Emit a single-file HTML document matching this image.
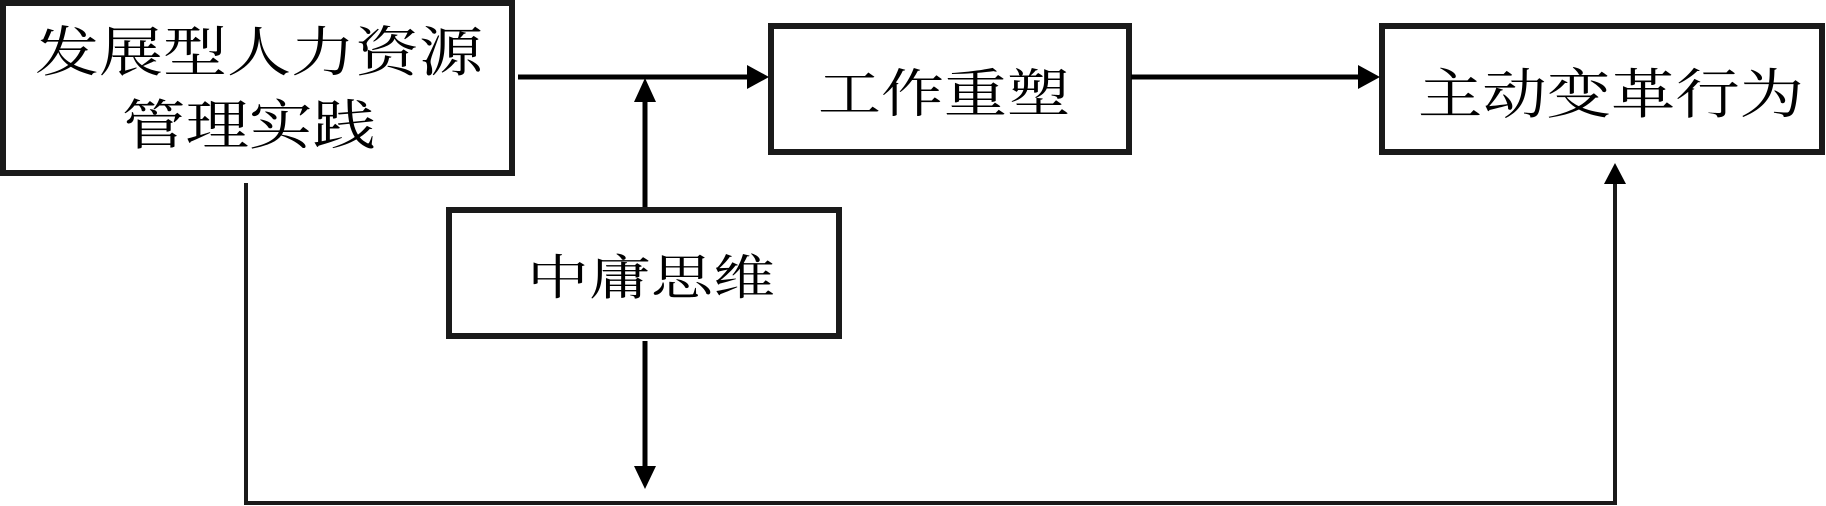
<!DOCTYPE html>
<html><head><meta charset="utf-8"><style>
html,body{margin:0;padding:0;background:#fff;}
svg{display:block;}
text{font-family:"Liberation Serif","Noto Serif CJK SC",serif;fill:#000;}
</style></head><body>
<svg width="1826" height="506" viewBox="0 0 1826 506" xmlns="http://www.w3.org/2000/svg">
<g fill="none" stroke="#1a1a1a" stroke-width="6">
<rect x="3" y="3" width="509" height="170"/>
<rect x="771" y="26" width="358" height="126"/>
<rect x="1382" y="26" width="440" height="126"/>
<rect x="449" y="210" width="390" height="126"/>
</g>
<g stroke="#000" stroke-width="5" fill="none">
<line x1="518" y1="77" x2="750" y2="77"/>
<line x1="1131" y1="77" x2="1360" y2="77"/>
<line x1="645" y1="207" x2="645" y2="100"/>
<line x1="645" y1="341" x2="645" y2="468"/>
</g>
<polyline points="246,183 246,503 1615,503 1615,182" fill="none" stroke="#1a1a1a" stroke-width="4"/>
<g fill="#000">
<polygon points="747,65 769,77 747,89"/>
<polygon points="1358,65 1380,77 1358,89"/>
<polygon points="634,102 656,102 645,78"/>
<polygon points="634,466 656,466 645,489"/>
<polygon points="1604,184 1626,184 1615,163"/>
</g>
<text x="35" y="71" font-size="54" textLength="448" lengthAdjust="spacingAndGlyphs">发展型人力资源</text>
<text x="122" y="144" font-size="54" textLength="254" lengthAdjust="spacingAndGlyphs">管理实践</text>
<text x="818" y="112" font-size="52" textLength="252" lengthAdjust="spacingAndGlyphs">工作重塑</text>
<text x="1418" y="113" font-size="54" textLength="386" lengthAdjust="spacingAndGlyphs">主动变革行为</text>
<text x="527" y="294" font-size="48" textLength="248" lengthAdjust="spacingAndGlyphs">中庸思维</text>
</svg>
</body></html>
